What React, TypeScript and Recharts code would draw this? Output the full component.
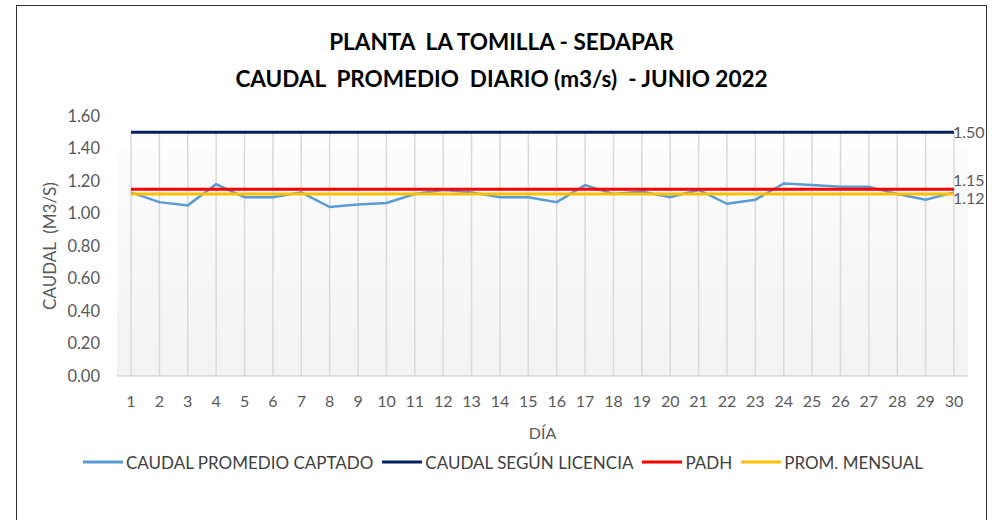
import React from 'react';
import { LineChart, Line, XAxis, YAxis, CartesianGrid, ReferenceLine, Legend } from 'recharts';

// Chart values
const DAYS = [
  1, 2, 3, 4, 5, 6, 7, 8, 9, 10, 11, 12, 13, 14, 15,
  16, 17, 18, 19, 20, 21, 22, 23, 24, 25, 26, 27, 28, 29, 30,
];
const CAUDAL_CAPTADO = [
  1.13, 1.07, 1.05, 1.18, 1.10, 1.10, 1.13, 1.04, 1.055, 1.065, 1.12, 1.145, 1.13, 1.10, 1.10,
  1.07, 1.175, 1.12, 1.135, 1.10, 1.145, 1.06, 1.085, 1.185, 1.175, 1.165, 1.165, 1.12, 1.085, 1.13,
];
const CAUDAL_LICENCIA = 1.5;
const PADH = 1.15;
const PROM_MENSUAL = 1.12;
const Y_TICKS = [0, 0.2, 0.4, 0.6, 0.8, 1.0, 1.2, 1.4, 1.6];

const SERIES = [
  { key: 'captado', name: 'CAUDAL PROMEDIO CAPTADO', color: '#5b9bd5', width: 2.5 },
  { key: 'licencia', name: 'CAUDAL SEGÚN LICENCIA', color: '#002060', width: 3 },
  { key: 'padh', name: 'PADH', color: '#ff0000', width: 3 },
  { key: 'prom', name: 'PROM. MENSUAL', color: '#ffc000', width: 3 },
];

const FONT = 'Lato, "Open Sans", sans-serif';
const GRAY = '#595959';

const chartData = DAYS.map((day, i) => ({
  day,
  captado: CAUDAL_CAPTADO[i],
  licencia: CAUDAL_LICENCIA,
  padh: PADH,
  prom: PROM_MENSUAL,
}));

// label only on the last point, nudged like excel does
const endLabel = (dy: number) => (props: any) => {
  const { x, y, index, value } = props;
  if (index !== DAYS.length - 1) return <g />;
  return (
    <text x={x - 1} y={y + dy} dy="0.35em" fontSize={16} fill={GRAY} fontFamily={FONT}>
      {Number(value).toFixed(2)}
    </text>
  );
};

const LegendContent = () => (
  <div style={{ display: 'flex', alignItems: 'center', justifyContent: 'center', height: 50, fontFamily: FONT, fontSize: 17, color: '#404040', paddingLeft: 10 }}>
    {SERIES.map((s) => (
      <div key={s.key} style={{ display: 'flex', alignItems: 'center', marginRight: 9 }}>
        <svg width={40} height={6}>
          <line x1={0} y1={3} x2={40} y2={3} stroke={s.color} strokeWidth={3} />
        </svg>
        <span style={{ marginLeft: 3 }}>{s.name}</span>
      </div>
    ))}
  </div>
);

export default function App() {
  return (
    <div style={{ position: 'absolute', left: 0, top: 0, width: 995, height: 520, overflow: 'hidden', background: '#fff' }}>
      {/* chart area border */}
      <div style={{ position: 'absolute', left: 16, top: 5, width: 969, height: 540, border: '1.5px solid #333' }} />

      {/* Title */}
      <div style={{ position: 'absolute', left: 16, top: 23, width: 971, textAlign: 'center', fontFamily: FONT, fontWeight: 700, fontSize: 22.5, lineHeight: '37px', color: '#000', whiteSpace: 'pre' }}>
        <div>{'PLANTA  LA TOMILLA - SEDAPAR'}</div>
        <div>{'CAUDAL  PROMEDIO  DIARIO (m3/s)  - JUNIO 2022'}</div>
      </div>

      <LineChart width={995} height={520} data={chartData} margin={{ top: 116, right: 27, left: 37, bottom: 33 }}>
        <defs>
          <linearGradient id="plotBg" x1="0" y1="0" x2="0" y2="1">
            <stop offset="0%" stopColor="#ffffff" />
            <stop offset="12%" stopColor="#ffffff" />
            <stop offset="14%" stopColor="#fcfcfc" />
            <stop offset="100%" stopColor="#f2f2f2" />
          </linearGradient>
        </defs>
        <CartesianGrid fill="url(#plotBg)" horizontal={false} vertical={false} />
        <XAxis
          dataKey="day"
          type="category"
          height={61}
          padding={{ left: 14, right: 14 }}
          axisLine={{ stroke: '#d9d9d9', strokeWidth: 1.5 }}
          tickLine={false}
          tickMargin={14}
          interval={0}
          tick={{ fontSize: 16, fill: GRAY, fontFamily: FONT }}
          label={{
            content: (p: any) => {
              const vb = p.viewBox;
              return (
                <text x={vb.x + vb.width / 2} y={439} textAnchor="middle" fontSize={16} fill={GRAY} fontFamily={FONT}>
                  DÍA
                </text>
              );
            },
          }}
        />
        <YAxis
          domain={[0, 1.6]}
          ticks={Y_TICKS}
          width={80}
          axisLine={false}
          tickLine={false}
          tickMargin={11}
          tickFormatter={(v: number) => v.toFixed(2)}
          tick={{ fontSize: 16.5, fill: GRAY, fontFamily: FONT }}
          label={{
            content: (p: any) => {
              const vb = p.viewBox;
              const cx = vb.x + 13;
              const cy = vb.y + vb.height / 2;
              return (
                <text x={cx} y={cy} transform={`rotate(-90 ${cx} ${cy})`} textAnchor="middle" dy="0.35em" fontSize={17} fill={GRAY} fontFamily={FONT} style={{ whiteSpace: 'pre' }}>
                  {'CAUDAL  (M3/S)'}
                </text>
              );
            },
          }}
        />
        {/* drop lines */}
        {DAYS.map((d) => (
          <ReferenceLine key={d} segment={[{ x: d, y: 0 }, { x: d, y: CAUDAL_LICENCIA }]} stroke="#d9d9d9" strokeWidth={1.5} />
        ))}
        <Legend verticalAlign="bottom" height={50} content={<LegendContent />} />
        <Line dataKey="captado" name={SERIES[0].name} stroke={SERIES[0].color} strokeWidth={2.5} dot={false} isAnimationActive={false} />
        <Line dataKey="licencia" name={SERIES[1].name} stroke={SERIES[1].color} strokeWidth={3} dot={false} isAnimationActive={false} label={endLabel(0)} />
        <Line dataKey="padh" name={SERIES[2].name} stroke={SERIES[2].color} strokeWidth={3} dot={false} isAnimationActive={false} label={endLabel(-9)} />
        <Line dataKey="prom" name={SERIES[3].name} stroke={SERIES[3].color} strokeWidth={3} dot={false} isAnimationActive={false} label={endLabel(4)} />
      </LineChart>
    </div>
  );
}
